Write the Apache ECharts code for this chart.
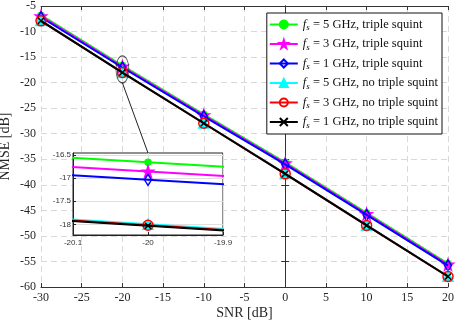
<!DOCTYPE html>
<html><head><meta charset="utf-8">
<script src="https://cdn.jsdelivr.net/npm/echarts@6/dist/echarts.min.js"></script>
<style>html,body{margin:0;padding:0;background:#fff}#c{width:457px;height:326px}</style>
</head><body><div id="c"></div>
<script>
const snr = [-30, -20, -10, 0, 10, 20];
const triple5 = [-6.8, -16.66, -26.2, -35.6, -45.5, -55.4];
const triple3 = [-7.0, -16.86, -26.4, -35.8, -45.7, -55.6];
const triple1 = [-7.2, -17.04, -26.6, -36.0, -45.9, -55.8];
const none5 = [-7.85, -18.0, -27.9, -37.8, -47.9, -57.9];
const none3 = [-7.9, -18.02, -27.95, -37.85, -47.95, -57.95];
const none1 = [-7.9, -18.03, -27.95, -37.85, -47.95, -57.95];
const names = ['5 GHz, triple squint', '3 GHz, triple squint', '1 GHz, triple squint',
               '5 GHz, no triple squint', '3 GHz, no triple squint', '1 GHz, no triple squint'];
const xTicks = [-30, 20, 5];
const yTicks = [-60, -5, 5];
const insetX = [-20.1, -20, -19.9];
const insetY = [-18, -17.5, -17, -16.5];
const insetRange = [-18.23, -16.46];
const zoomCenter = [-20, -17.4];

const star = 'path://M50,0L61,35L98,35L68,57L79,91L50,70L21,91L32,57L2,35L39,35Z';
const cross = 'path://M0,0L10,10M10,0L0,10';
const styles = [
  {c: '#00ff00', sym: 'circle', size: 6, fill: '#00ff00'},
  {c: '#ff00ff', sym: star, size: 11, fill: '#ff00ff'},
  {c: '#0000ff', sym: 'diamond', size: [7, 11], fill: 'transparent'},
  {c: '#00ffff', sym: 'triangle', size: 10, fill: '#00ffff'},
  {c: '#ff0000', sym: 'circle', size: 10, fill: 'transparent'},
  {c: '#000000', sym: cross, size: 6, fill: 'transparent'}
];
const vals = [triple5, triple3, triple1, none5, none3, none1];

const serif = 'Liberation Serif';
const series = [];
function mk(i, xi, yi, zb) {
  const s = styles[i];
  return {
    name: names[i], type: 'line', xAxisIndex: xi, yAxisIndex: yi,
    data: snr.map((x, k) => [x, vals[i][k]]),
    symbol: s.sym, symbolSize: s.size, showSymbol: true, clip: true,
    color: s.c,
    lineStyle: {color: s.c, width: 2},
    itemStyle: {color: s.fill, borderColor: s.c, borderWidth: 1.5},
    z: zb + i, animation: false
  };
}
for (let i = 0; i < 6; i++) series.push(mk(i, 0, 0, 3));
series.push({
  type: 'scatter', xAxisIndex: 0, yAxisIndex: 0, data: [zoomCenter],
  symbol: 'circle', symbolSize: [13, 27], silent: true,
  itemStyle: {color: 'transparent', borderColor: '#222', borderWidth: 1}, z: 9, animation: false
});
for (let i = 0; i < 6; i++) series.push(mk(i, 2, 2, 30));

const axLine = {show: true, lineStyle: {color: '#333', width: 1}};
const chart = echarts.init(document.getElementById('c'));
chart.setOption({
  animation: false,
  backgroundColor: '#fff',
  grid: [
    {left: 41, right: 9, top: 6, bottom: 39, show: false, containLabel: false, outerBoundsMode: 'none'},
    {left: 73, top: 153, width: 150, height: 82, show: true, backgroundColor: '#fff', borderColor: '#222', borderWidth: 1, z: 20, containLabel: false, outerBoundsMode: 'none'}
  ],
  xAxis: [
    {type: 'value', gridIndex: 0, min: xTicks[0], max: xTicks[1], interval: xTicks[2],
     name: 'SNR [dB]', nameLocation: 'middle', nameGap: 19, nameMoveOverlap: false,
     nameTextStyle: {fontFamily: serif, fontSize: 14, color: '#262626'},
     axisLine: axLine, axisTick: {inside: true, length: 4, lineStyle: {color: '#333'}},
     axisLabel: {fontFamily: serif, fontSize: 12, color: '#262626', margin: 5},
     splitLine: {show: true, lineStyle: {color: '#d9d9d9', type: [6, 4], width: 1}}},
    {type: 'value', gridIndex: 0, position: 'top', min: xTicks[0], max: xTicks[1], interval: xTicks[2],
     axisLine: axLine, axisTick: {inside: true, length: 4, lineStyle: {color: '#333'}},
     axisLabel: {show: false}, splitLine: {show: false}},
    {type: 'value', gridIndex: 1, min: insetX[0], max: insetX[2],
     axisLine: {show: true, lineStyle: {color: '#222'}},
     axisTick: {inside: true, length: 3, customValues: insetX, lineStyle: {color: '#222'}},
     axisLabel: {customValues: insetX, fontFamily: 'Liberation Sans', fontSize: 8, color: '#333', margin: 4},
     splitLine: {show: true, lineStyle: {color: '#e0e0e0', width: 1}}, z: 25}
  ],
  yAxis: [
    {type: 'value', gridIndex: 0, min: yTicks[0], max: yTicks[1], interval: yTicks[2],
     name: 'NMSE [dB]', nameLocation: 'middle', nameGap: 29, nameRotate: 90, nameMoveOverlap: false,
     nameTextStyle: {fontFamily: serif, fontSize: 14, color: '#262626'},
     axisLine: axLine, axisTick: {inside: true, length: 4, lineStyle: {color: '#333'}},
     axisLabel: {fontFamily: serif, fontSize: 12, color: '#262626', margin: 5},
     splitLine: {show: true, lineStyle: {color: '#d9d9d9', type: [6, 4], width: 1}}},
    {type: 'value', gridIndex: 0, position: 'right', min: yTicks[0], max: yTicks[1], interval: yTicks[2],
     axisLine: axLine, axisTick: {inside: true, length: 4, lineStyle: {color: '#333'}},
     axisLabel: {show: false}, splitLine: {show: false}},
    {type: 'value', gridIndex: 1, min: insetRange[0], max: insetRange[1],
     axisLine: {show: true, lineStyle: {color: '#222'}},
     axisTick: {inside: true, length: 3, customValues: insetY, lineStyle: {color: '#222'}},
     axisLabel: {customValues: insetY, fontFamily: 'Liberation Sans', fontSize: 8, color: '#333', margin: 2},
     splitLine: {show: true, lineStyle: {color: '#e0e0e0', width: 1}}, z: 25}
  ],
  legend: {
    data: names, orient: 'vertical', right: 15, top: 13, z: 50,
    backgroundColor: '#fff', borderColor: '#111', borderWidth: 1,
    padding: [5, 4, 4, 2], itemWidth: 28, itemHeight: 10, itemGap: 5,
    formatter: n => '{i|f}{s|s}{t| = ' + n + '}',
    textStyle: {
      fontFamily: serif, color: '#111', fontSize: 12.5,
      rich: {
        i: {fontFamily: serif, fontStyle: 'italic', fontSize: 12.5, color: '#111'},
        s: {fontFamily: serif, fontStyle: 'italic', fontSize: 9, color: '#111', padding: [7, 0, 0, 0]},
        t: {fontFamily: serif, fontSize: 12.5, color: '#111'}
      }
    }
  },
  series: series
});
const p1 = chart.convertToPixel({xAxisIndex: 0, yAxisIndex: 0}, zoomCenter);
const p2 = chart.convertToPixel({xAxisIndex: 2, yAxisIndex: 2}, [insetX[1], insetRange[1]]);
chart.setOption({
  graphic: [{type: 'line', shape: {x1: p1[0], y1: p1[1] + 13.5, x2: p2[0], y2: p2[1]},
             style: {stroke: '#222', lineWidth: 1}, z: 100}]
});
</script></body></html>
